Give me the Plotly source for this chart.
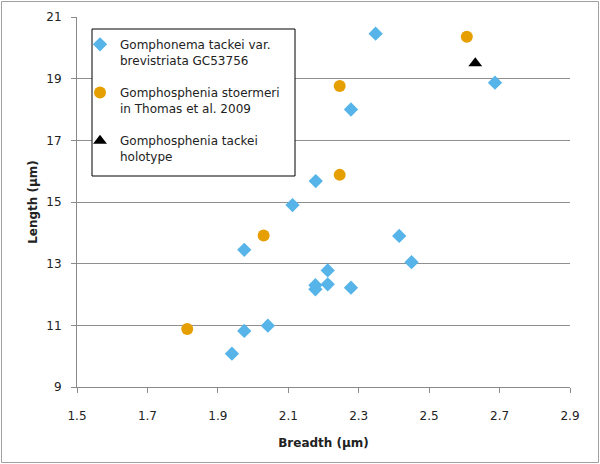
import plotly.graph_objects as go

# Gomphonema tackei var. brevistriata GC53756
tackei_breadth = [2.348, 2.687, 2.278, 2.178, 2.112, 1.975, 2.415, 2.450, 2.212,
                  2.177, 2.177, 2.212, 2.278, 1.975, 2.042, 1.940]
tackei_length = [20.46, 18.87, 18.0, 15.68, 14.9, 13.45, 13.9, 13.05, 12.78,
                 12.3, 12.17, 12.33, 12.22, 10.82, 10.99, 10.08]

# Gomphosphenia stoermeri in Thomas et al. 2009
stoermeri_breadth = [2.607, 2.246, 2.246, 2.030, 1.813]
stoermeri_length = [20.36, 18.76, 15.88, 13.91, 10.88]

# Gomphosphenia tackei holotype
holotype_breadth = [2.631]
holotype_length = [19.5]

x_ticks = [1.5, 1.7, 1.9, 2.1, 2.3, 2.5, 2.7, 2.9]
y_ticks = [9, 11, 13, 15, 17, 19, 21]

W, H = 600, 464
L, R, T, B = 77, 30, 17, 77
pw, ph = W - L - R, H - T - B


def px_x(p):
    return (p - L) / pw


def px_y(p):
    return (H - B - p) / ph


fig = go.Figure()
fig.add_trace(go.Scatter(
    x=tackei_breadth, y=tackei_length, mode='markers', legendgroup='a',
    name='Gomphonema tackei var.<br>brevistriata GC53756',
    marker=dict(symbol='diamond', size=11, color='#56B4E9')))
fig.add_trace(go.Scatter(
    x=stoermeri_breadth, y=stoermeri_length, mode='markers', legendgroup='b',
    name='Gomphosphenia stoermeri<br>in Thomas et al. 2009',
    marker=dict(symbol='circle', size=12, color='#E69F00')))
fig.add_trace(go.Scatter(
    x=holotype_breadth, y=holotype_length, mode='markers', legendgroup='c',
    name='Gomphosphenia tackei<br>holotype',
    marker=dict(symbol='triangle-up', size=12, color='black')))

axis_font = dict(family='DejaVu Sans', size=12, color='#222222')

fig.update_xaxes(range=[1.5, 2.9], tickvals=x_ticks, ticktext=[str(v) for v in x_ticks],
                 showgrid=False, zeroline=False, showline=True, linecolor='#8a8a8a',
                 ticks='outside', ticklen=5, tickcolor='#8a8a8a', tickfont=axis_font,
                 ticklabelstandoff=13, automargin=False,
                 title=dict(text='<b>Breadth (µm)</b>', font=axis_font, standoff=16))
fig.update_yaxes(range=[9, 21], tickvals=y_ticks, showgrid=True, gridcolor='#8f8f8f',
                 zeroline=False, showline=True, linecolor='#8a8a8a',
                 ticks='outside', ticklen=5, tickcolor='#8a8a8a', tickfont=axis_font,
                 ticklabelstandoff=7, automargin=False,
                 title=dict(text='<b>Length (µm)</b>', font=axis_font, standoff=6))

# outer chart border
fig.add_shape(type='rect', xref='paper', yref='paper',
              x0=px_x(1.5), x1=px_x(598.5), y0=px_y(462.5), y1=px_y(1.5),
              line=dict(color='#a0a0a0', width=1))
# legend box
fig.add_shape(type='rect', xref='paper', yref='paper',
              x0=px_x(92), x1=px_x(295), y0=px_y(176), y1=px_y(29),
              line=dict(color='black', width=1), fillcolor='white', layer='above')

fig.update_layout(
    width=W, height=H, margin=dict(l=L, r=R, t=T, b=B),
    paper_bgcolor='white', plot_bgcolor='white',
    font=dict(family='DejaVu Sans', size=12, color='#222222'),
    legend=dict(x=px_x(80), y=px_y(30), xanchor='left', yanchor='top',
                borderwidth=0, bgcolor='rgba(0,0,0,0)',
                valign='top', tracegroupgap=14,
                font=dict(family='DejaVu Sans', size=12, color='#222222')),
)

fig.write_html('out.html', config={'displayModeBar': False},
               post_script="document.body.style.margin='0';")
